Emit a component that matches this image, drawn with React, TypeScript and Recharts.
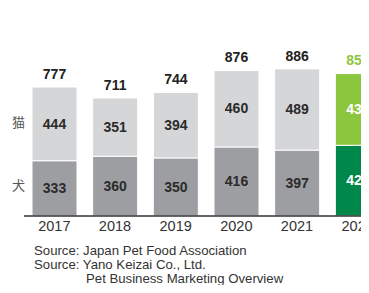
import { BarChart, Bar, XAxis, YAxis, Cell, LabelList } from "recharts"

const years = ["2017", "2018", "2019", "2020", "2021", "2022"]
const dogs = [333, 360, 350, 416, 397, 426]
const cats = [444, 351, 394, 460, 489, 432]
const totals = [777, 711, 744, 876, 886, 858]

const sources = [
  "Source: Japan Pet Food Association",
  "Source: Yano Keizai Co., Ltd.",
]
const sourceNote = "Pet Business Marketing Overview"

const FONT = "'Liberation Sans', Arial, Helvetica, sans-serif"
const HIGHLIGHT = 5

const chartData = years.map((year, i) => ({
  year,
  dog: dogs[i],
  cat: cats[i],
  total: totals[i],
}))

// eslint-disable-next-line @typescript-eslint/no-explicit-any
function innerLabel(props: any) {
  const { x, y, width, height, value, index } = props
  return (
    <text
      x={x + width / 2}
      y={y + height / 2 + 1}
      textAnchor="middle"
      dominantBaseline="middle"
      fontFamily={FONT}
      fontWeight="bold"
      fontSize={14}
      fill={index === HIGHLIGHT ? "#ffffff" : "#2b2b2b"}
    >
      {value}
    </text>
  )
}

// eslint-disable-next-line @typescript-eslint/no-explicit-any
function totalLabel(props: any) {
  const { x, y, width, index } = props
  return (
    <text
      x={x + width / 2}
      y={y - 12}
      textAnchor="middle"
      dominantBaseline="middle"
      fontFamily={FONT}
      fontWeight="bold"
      fontSize={14}
      fill={index === HIGHLIGHT ? "#8cc63f" : "#222222"}
    >
      {totals[index]}
    </text>
  )
}

export default function App() {
  return (
    <div style={{ position: "relative", width: 380, height: 277, fontFamily: FONT }}>
      <style>{"html,body{overflow:hidden}"}</style>
      <BarChart
        width={380}
        height={228}
        data={chartData}
        margin={{ top: 42, right: 0, left: 16, bottom: 0 }}
        barCategoryGap={0}
      >
        <XAxis
          dataKey="year"
          height={20}
          axisLine={{ stroke: "#333333", strokeWidth: 1.5 }}
          tickLine={false}
          tickSize={0}
          tickMargin={5}
          interval={0}
          tick={{ fontSize: 14.5, fill: "#333333", fontFamily: FONT }}
        />
        <YAxis hide domain={[0, 1000]} />
        <Bar dataKey="dog" stackId="a" barSize={45} isAnimationActive={false} stroke="#ffffff" strokeWidth={1}>
          {chartData.map((_, i) => (
            <Cell key={i} fill={i === HIGHLIGHT ? "#00884a" : "#9d9ea2"} />
          ))}
          <LabelList dataKey="dog" content={innerLabel} />
        </Bar>
        <Bar dataKey="cat" stackId="a" barSize={45} isAnimationActive={false} stroke="#ffffff" strokeWidth={1}>
          {chartData.map((_, i) => (
            <Cell key={i} fill={i === HIGHLIGHT ? "#8cc63f" : "#d5d6d8"} />
          ))}
          <LabelList dataKey="cat" content={innerLabel} />
          <LabelList dataKey="total" content={totalLabel} />
        </Bar>
      </BarChart>
      <div style={{ position: "absolute", left: 4, top: 104, fontFamily: "'Noto Sans CJK JP', sans-serif", fontSize: 13, color: "#555555" }}>猫</div>
      <div style={{ position: "absolute", left: 4, top: 167, fontFamily: "'Noto Sans CJK JP', sans-serif", fontSize: 13, color: "#555555" }}>犬</div>
      <div style={{ position: "absolute", left: 26, top: 236, fontSize: 13.2, lineHeight: "14px", color: "#333333" }}>
        {sources.map((s) => (
          <div key={s}>{s}</div>
        ))}
        <div style={{ paddingLeft: 52 }}>{sourceNote}</div>
      </div>
    </div>
  )
}
